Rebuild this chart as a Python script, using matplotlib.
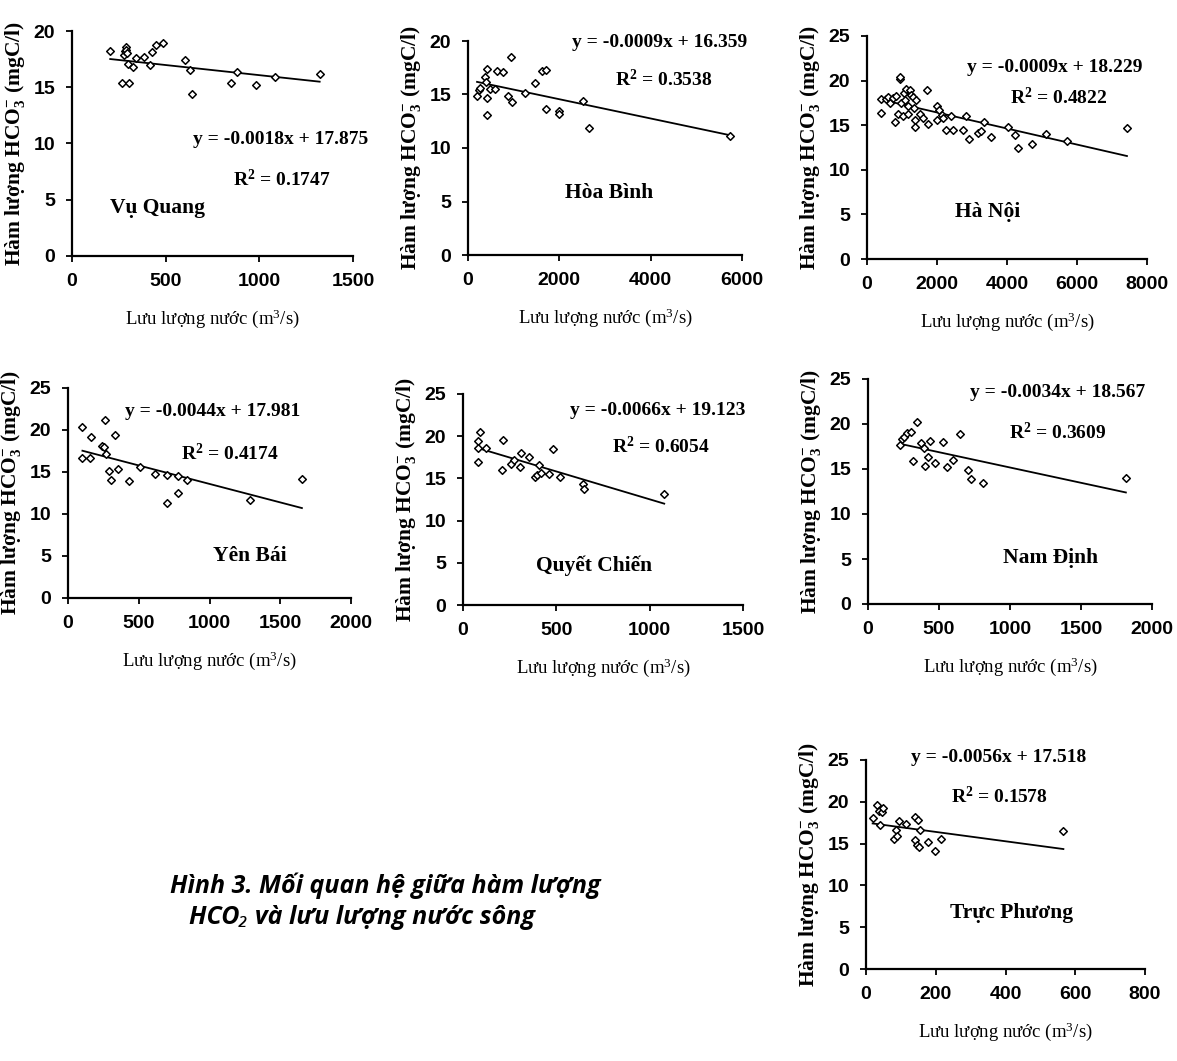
import matplotlib
matplotlib.use("Agg")
import matplotlib.pyplot as plt
import numpy as np

plt.rcParams['mathtext.fontset'] = 'custom'
plt.rcParams['mathtext.rm'] = 'Liberation Serif'
plt.rcParams['mathtext.bf'] = 'Liberation Serif:bold'
plt.rcParams['mathtext.it'] = 'Liberation Serif:italic'

# ---- data ----
vq_x = [204, 280, 284, 288, 289, 293, 298, 328, 342, 385, 417, 426, 447, 488,
        266, 302, 604, 630, 643, 850, 879, 982, 1083, 1322]
vq_y = [18.2, 17.9, 18.2, 18.6, 18.3, 18.0, 17.1, 16.8, 17.6, 17.7, 17.0, 18.1, 18.75, 18.9,
        15.35, 15.35, 17.4, 16.5, 14.4, 15.35, 16.4, 15.2, 15.9, 16.2]

hb_x = [198, 241, 271, 366, 402, 417, 417, 417, 490, 585, 637, 768, 878, 951, 966,
        1259, 1478, 1610, 1712, 1712, 1990, 1990, 2524, 2641, 5744]
hb_y = [14.9, 15.4, 15.65, 16.6, 16.2, 17.4, 14.7, 13.1, 15.55, 15.5, 17.2, 17.1, 14.85, 18.5, 14.3,
        15.15, 16.1, 17.2, 17.3, 13.6, 13.5, 13.2, 14.4, 11.9, 11.1]

hn_x = [410, 410, 535, 601, 649, 745, 792, 840, 888, 935, 955, 983, 1031, 1050, 1079, 1126,
        1174, 1174, 1222, 1270, 1317, 1336, 1365, 1365, 1413, 1508, 1604, 1728, 1747, 1986,
        1986, 2062, 2148, 2177, 2244, 2396, 2463, 2730, 2825, 2912, 3179, 3246, 3341, 3532,
        4038, 4229, 4306, 4726, 5117, 5709, 7427]
hn_y = [17.95, 16.4, 17.9, 18.2, 17.5, 18.0, 15.4, 18.3, 16.3, 20.15, 20.45, 17.5, 16.0, 18.6,
        17.8, 19.1, 17.1, 16.2, 18.95, 18.4, 18.2, 16.9, 15.6, 14.85, 17.8, 16.3, 15.8, 18.95,
        15.15, 17.15, 15.6, 16.7, 16.15, 15.8, 14.5, 16.0, 14.5, 14.5, 16.0, 13.5, 14.1, 14.4,
        15.4, 13.7, 14.85, 13.9, 12.4, 12.9, 14.0, 13.2, 14.7]

yb_x = [102, 102, 153, 165, 243, 253, 260, 271, 288, 307, 335, 354, 432, 508, 614, 697,
        697, 779, 779, 843, 1287, 1653]
yb_y = [20.4, 16.7, 16.7, 19.2, 18.1, 18.0, 21.2, 17.1, 15.1, 14.0, 19.4, 15.4, 13.9, 15.6,
        14.8, 14.6, 11.3, 14.5, 12.5, 14.0, 11.7, 14.2]

qc_x = [78, 78, 78, 93, 125, 208, 214, 257, 274, 306, 310, 356, 387, 396, 408, 417, 463,
        481, 520, 645, 650, 1078]
qc_y = [19.4, 18.6, 16.9, 20.45, 18.6, 16.0, 19.5, 16.7, 17.2, 16.3, 18.0, 17.5, 15.2, 15.4,
        16.6, 15.6, 15.55, 18.5, 15.15, 14.3, 13.7, 13.2]

nd_x = [224, 240, 252, 275, 306, 318, 346, 376, 393, 402, 424, 440, 471, 529, 558, 600,
        647, 706, 722, 807, 1816]
nd_y = [17.7, 18.3, 18.55, 19.05, 19.15, 15.85, 20.2, 17.9, 17.3, 15.3, 16.3, 18.1, 15.65,
        17.95, 15.2, 16.0, 18.9, 14.9, 13.9, 13.4, 13.95]

tp_x = [19, 32, 38, 41, 46, 49, 79, 87, 89, 94, 115, 141, 141, 146, 148, 151, 154, 177,
        199, 215, 566]
tp_y = [18.1, 19.6, 18.9, 17.25, 18.8, 19.2, 15.55, 16.65, 15.9, 17.65, 17.3, 18.15, 15.45,
        14.85, 17.85, 14.55, 16.65, 15.2, 14.15, 15.55, 16.55]

names = ["Vụ Quang", "Hòa Bình", "Hà Nội", "Yên Bái", "Quyết Chiến", "Nam Định", "Trực Phương"]
slopes = [-0.0018, -0.0009, -0.0009, -0.0044, -0.0066, -0.0034, -0.0056]
intercepts = [17.875, 16.359, 18.229, 17.981, 19.123, 18.567, 17.518]
r2 = ["0.1747", "0.3538", "0.4822", "0.4174", "0.6054", "0.3609", "0.1578"]
xmax = [1500, 6000, 8000, 2000, 1500, 2000, 800]
ymax = [20, 20, 25, 25, 25, 25, 25]
xstep = [500, 2000, 2000, 500, 500, 500, 200]

xs = [vq_x, hb_x, hn_x, yb_x, qc_x, nd_x, tp_x]
ys = [vq_y, hb_y, hn_y, yb_y, qc_y, nd_y, tp_y]

# axes boxes in pixels (left, right, top, bottom)
boxes = [(72, 353, 31, 256), (468, 742, 41, 255), (867, 1147, 36, 259),
         (68, 351, 388, 598), (463, 743, 394, 605), (868, 1152, 379, 604),
         (866, 1145, 760, 969)]
# text places in axes fraction: equation, R2, station name
eq_pos = [(0.744, 0.516), (0.70, 0.995), (0.671, 0.857), (0.512, 0.886),
          (0.696, 0.924), (0.669, 0.938), (0.477, 1.01)]
r2_pos = [(0.747, 0.338), (0.715, 0.822), (0.686, 0.726), (0.572, 0.69),
          (0.707, 0.749), (0.669, 0.76), (0.477, 0.823)]
nm_pos = [(0.306, 0.213), (0.515, 0.29), (0.432, 0.21), (0.643, 0.2),
          (0.468, 0.185), (0.644, 0.204), (0.523, 0.268)]

W, H = 1177, 1061
fig = plt.figure(figsize=(W / 100, H / 100), dpi=100)

serif = 'Liberation Serif'
tickfont = ['Liberation Sans Narrow', 'Liberation Sans', 'DejaVu Sans']

for i in range(7):
    l, r, t, b = boxes[i]
    ax = fig.add_axes([l / W, 1 - b / H, (r - l) / W, (b - t) / H])
    x = np.array(xs[i])
    y = np.array(ys[i])
    ax.scatter(x, y, marker='D', s=15, facecolors='white', edgecolors='black',
               linewidths=1.1, zorder=3)
    lx = np.array([x.min(), x.max()])
    ax.plot(lx, slopes[i] * lx + intercepts[i], color='black', lw=1.3, zorder=2)

    ax.set_xlim(0, xmax[i])
    ax.set_ylim(0, ymax[i])
    ax.set_xticks(np.arange(0, xmax[i] + 1, xstep[i]))
    ax.set_yticks(np.arange(0, ymax[i] + 1, 5))
    ax.spines['top'].set_visible(False)
    ax.spines['right'].set_visible(False)
    ax.spines['left'].set_linewidth(1.6)
    ax.spines['bottom'].set_linewidth(1.6)
    ax.tick_params(direction='out', length=4, width=1.3, pad=8)
    for lab in ax.get_xticklabels() + ax.get_yticklabels():
        lab.set_family(tickfont)
        lab.set_fontweight('bold')
        lab.set_fontsize(14)

    ax.set_ylabel(r"Hàm lượng HCO$_{\mathbf{3}}^{\mathbf{-}}$ (mgC/l)", family=serif,
                  fontweight='bold', fontsize=15.5, labelpad=5)
    ax.set_xlabel(r"Lưu lượng nước (m$^{3}$/s)", family=serif, fontsize=13.5, labelpad=13)

    eq = "y = -%.4fx + %.3f" % (abs(slopes[i]), intercepts[i])
    ax.text(eq_pos[i][0], eq_pos[i][1], eq, transform=ax.transAxes, ha='center',
            va='center', family=serif, fontweight='bold', fontsize=14, clip_on=False)
    ax.text(r2_pos[i][0], r2_pos[i][1], r"R$^{\mathbf{2}}$ = " + r2[i], transform=ax.transAxes,
            ha='center', va='center', family=serif, fontweight='bold', fontsize=14)
    ax.text(nm_pos[i][0], nm_pos[i][1], names[i], transform=ax.transAxes, ha='center',
            va='center', family=serif, fontweight='bold', fontsize=15.5)

capfont = ['Open Sans', 'Noto Sans', 'DejaVu Sans']
fig.text(385 / W, 1 - 886 / H, "Hình 3. Mối quan hệ giữa hàm lượng", ha='center', va='center',
         family=capfont, style='italic', fontweight='bold', fontsize=18)
fig.text(362 / W, 1 - 918 / H, "HCO₂ và lưu lượng nước sông", ha='center', va='center',
         family=capfont, style='italic', fontweight='bold', fontsize=18)

fig.savefig("out.png", dpi=100)
